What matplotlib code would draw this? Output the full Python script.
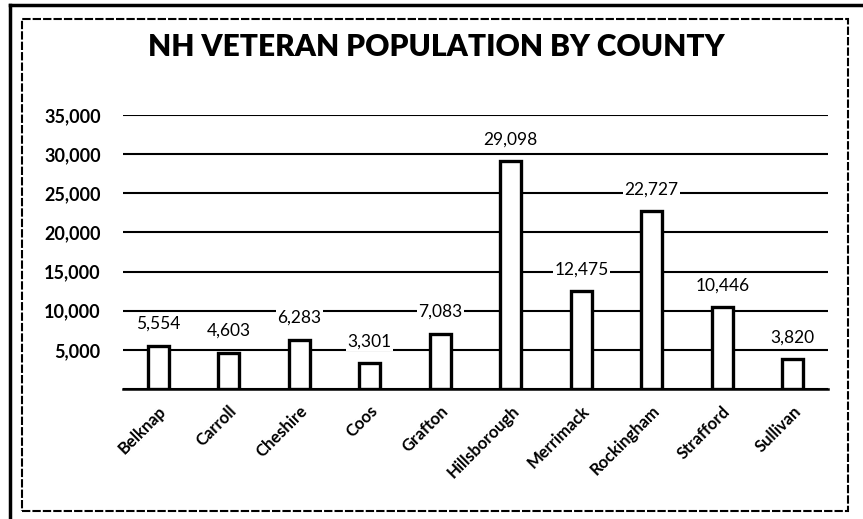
import matplotlib
matplotlib.use("Agg")
import matplotlib.pyplot as plt
from matplotlib.patches import Rectangle
from matplotlib.lines import Line2D

counties = ["Belknap", "Carroll", "Cheshire", "Coos", "Grafton", "Hillsborough",
            "Merrimack", "Rockingham", "Strafford", "Sullivan"]
veterans = [5554, 4603, 6283, 3301, 7083, 29098, 12475, 22727, 10446, 3820]
yticks = [0, 5000, 10000, 15000, 20000, 25000, 30000, 35000]
ytick_labels = ["", "5,000", "10,000", "15,000", "20,000", "25,000", "30,000", "35,000"]
title = "NH VETERAN POPULATION BY COUNTY"

plt.rcParams['font.family'] = ['Lato', 'DejaVu Sans']

fig = plt.figure(figsize=(8.63, 5.19), dpi=100)
ax = fig.add_axes([123/863, 1-389/519, (828-123)/863, (389-115)/519])

x = list(range(len(counties)))
ax.bar(x, veterans, width=0.3, color="white", edgecolor="black", linewidth=2.4, zorder=3)

for xi, v in zip(x, veterans):
    ax.annotate(f"{v:,}", (xi, v), xytext=(0, 10), textcoords="offset points",
                ha="center", va="bottom", fontsize=12.5, color="black", zorder=4,
                bbox=dict(boxstyle="square,pad=0.08", fc="white", ec="none"))

ax.set_ylim(0, 35000)
ax.set_xlim(-0.5, len(counties) - 0.5)
ax.set_yticks(yticks)
ax.set_yticklabels(ytick_labels, fontsize=13, fontweight="bold")
ax.set_xticks(x)
ax.set_xticklabels(counties, rotation=45, ha="right", rotation_mode="anchor",
                   fontsize=12, fontweight="bold")
ax.tick_params(axis="y", length=0, pad=16)
ax.tick_params(axis="x", length=0, pad=10)
ax.yaxis.grid(True, color="black", linewidth=1.5, zorder=0)
ax.set_axisbelow(True)
for s in ["top", "right", "left"]:
    ax.spines[s].set_visible(False)
ax.spines["bottom"].set_linewidth(1.8)

fig.text(436/863, 1-47/519, title, ha="center", va="center",
         fontsize=21.5, fontweight="heavy")

# page borders
fig.add_artist(Rectangle((22/863, 1-511/519), (848-22)/863, (511-19)/519,
                         transform=fig.transFigure, fill=False, ec="black",
                         lw=1.5, ls=(0, (4, 1))))
fig.add_artist(Line2D([10/863, 10/863], [0, 1-5/519], transform=fig.transFigure,
                      color="black", lw=2.5))
fig.add_artist(Line2D([10/863, 1], [1-5/519, 1-5/519], transform=fig.transFigure,
                      color="black", lw=2.5))

fig.savefig("out.png", dpi=100)
